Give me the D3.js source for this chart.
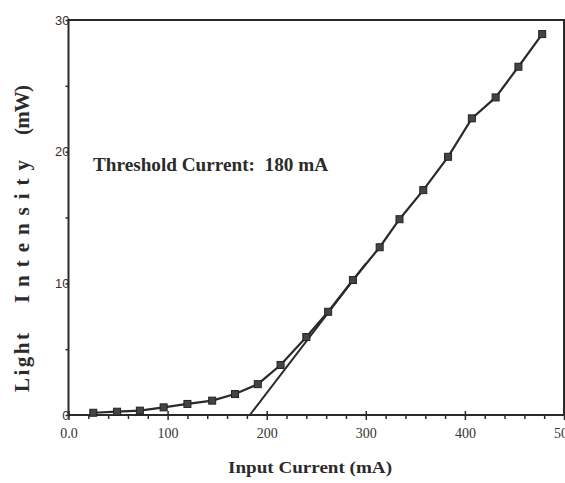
<!DOCTYPE html>
<html><head><meta charset="utf-8">
<script src="https://cdn.jsdelivr.net/npm/d3@7"></script>
<style>body{margin:0;background:#fff;} svg{display:block;}</style>
</head><body><svg id="c" width="565" height="483"></svg>
<script>
// ---- data ----
const currents    = [25, 49, 72, 96, 120, 145, 168, 191, 214, 240, 262, 287, 314, 334, 358, 383, 407, 431, 454, 478];
const intensities = [0.17, 0.25, 0.33, 0.58, 0.84, 1.09, 1.59, 2.34, 3.8, 5.92, 7.84, 10.25, 12.74, 14.87, 17.08, 19.61, 22.53, 24.12, 26.45, 28.93];
const fitCurrents    = [183, 300];
const fitIntensities = [0, 11.5];
const xTickValues = [0, 100, 200, 300, 400, 500];
const xTickLabels = ["0.0", "100", "200", "300", "400", "500"];
const yTickValues = [0, 10, 20, 30];
const yTickLabels = ["0", "10", "20", "30"];
const annotation = "Threshold Current:  180 mA";
const xTitle = "Input Current (mA)";
const yTitleWords = ["Light", "Intensity", "(mW)"];

const ink = "#2a2a2a";
const svg = d3.select("#c");
const x = d3.scaleLinear().domain([0, 500]).range([68.5, 564]);
const y = d3.scaleLinear().domain([0, 30]).range([415, 20]);

// tick labels first (axis frame overlaps them like the reference)
const gx = svg.append("g").attr("transform", `translate(0,${y(0)})`)
  .call(d3.axisBottom(x).tickValues(xTickValues).tickSize(5).tickPadding(8)
    .tickFormat((d, i) => xTickLabels[i]));
gx.select(".domain").remove();
gx.selectAll("line").attr("stroke", ink).attr("stroke-width", 1.5).attr("y1", -4);
gx.selectAll("text").attr("font-family", "Liberation Serif, serif").attr("font-size", 14).attr("fill", "#333");

const gxm = svg.append("g").attr("transform", `translate(0,${y(0)})`)
  .call(d3.axisBottom(x).tickValues(d3.range(20, 500, 20).filter(v => v % 100 !== 0)).tickSize(4).tickFormat(""));
gxm.select(".domain").remove();
gxm.selectAll("line").attr("stroke", ink).attr("stroke-width", 1.5);

const gy = svg.append("g").attr("transform", `translate(${x(0)},0)`)
  .call(d3.axisLeft(y).tickValues(yTickValues).tickSize(3).tickPadding(-4)
    .tickFormat((d, i) => yTickLabels[i]));
gy.select(".domain").remove();
gy.selectAll("line").attr("stroke", ink).attr("stroke-width", 1.5);
gy.selectAll("text").attr("font-family", "Liberation Sans, Arial, sans-serif").attr("font-size", 13)
  .attr("fill", "#333").attr("text-anchor", "end");

const gym = svg.append("g").attr("transform", `translate(${x(0)},0)`)
  .call(d3.axisLeft(y).tickValues([5, 15, 25]).tickSize(3).tickFormat(""));
gym.select(".domain").remove();
gym.selectAll("line").attr("stroke", ink).attr("stroke-width", 1.5);

// frame
svg.append("rect").attr("x", x(0)).attr("y", y(30)).attr("width", x(500) - x(0)).attr("height", y(0) - y(30))
  .attr("fill", "none").attr("stroke", ink).attr("stroke-width", 2);

// threshold fit line
const line = d3.line().x(d => x(d[0])).y(d => y(d[1]));
svg.append("path").datum(d3.zip(fitCurrents, fitIntensities)).attr("d", line)
  .attr("fill", "none").attr("stroke", ink).attr("stroke-width", 2);

// data line
const pts = d3.zip(currents, intensities);
svg.append("path").datum(pts).attr("d", line)
  .attr("fill", "none").attr("stroke", ink).attr("stroke-width", 2.2);
svg.selectAll("rect.m").data(pts).enter().append("rect").attr("class", "m")
  .attr("x", d => x(d[0]) - 3.5).attr("y", d => y(d[1]) - 3.5)
  .attr("width", 7).attr("height", 7).attr("fill", "#444").attr("stroke", "#222").attr("stroke-width", 1);

// texts
svg.append("text").attr("x", 93).attr("y", 171).attr("textLength", 235).attr("lengthAdjust", "spacingAndGlyphs")
  .style("white-space", "pre")
  .attr("font-family", "Liberation Serif, serif").attr("font-weight", "bold").attr("font-size", 18).attr("fill", "#2b2b2b")
  .text(annotation);

svg.append("text").attr("x", 228).attr("y", 473).attr("textLength", 164).attr("lengthAdjust", "spacingAndGlyphs")
  .attr("font-family", "Liberation Serif, serif").attr("font-weight", "bold").attr("font-size", 17).attr("fill", "#2b2b2b")
  .text(xTitle);

const ySpans = [[392, 333], [303, 160], [135, 85]];
yTitleWords.forEach((w, i) => {
  const [b, t] = ySpans[i];
  svg.append("text").attr("transform", `translate(29,${b}) rotate(-90)`)
    .attr("textLength", b - t).attr("lengthAdjust", "spacing")
    .attr("font-family", "Liberation Serif, serif").attr("font-weight", "bold").attr("font-size", 21).attr("fill", "#2b2b2b")
    .text(w);
});
</script></body></html>
